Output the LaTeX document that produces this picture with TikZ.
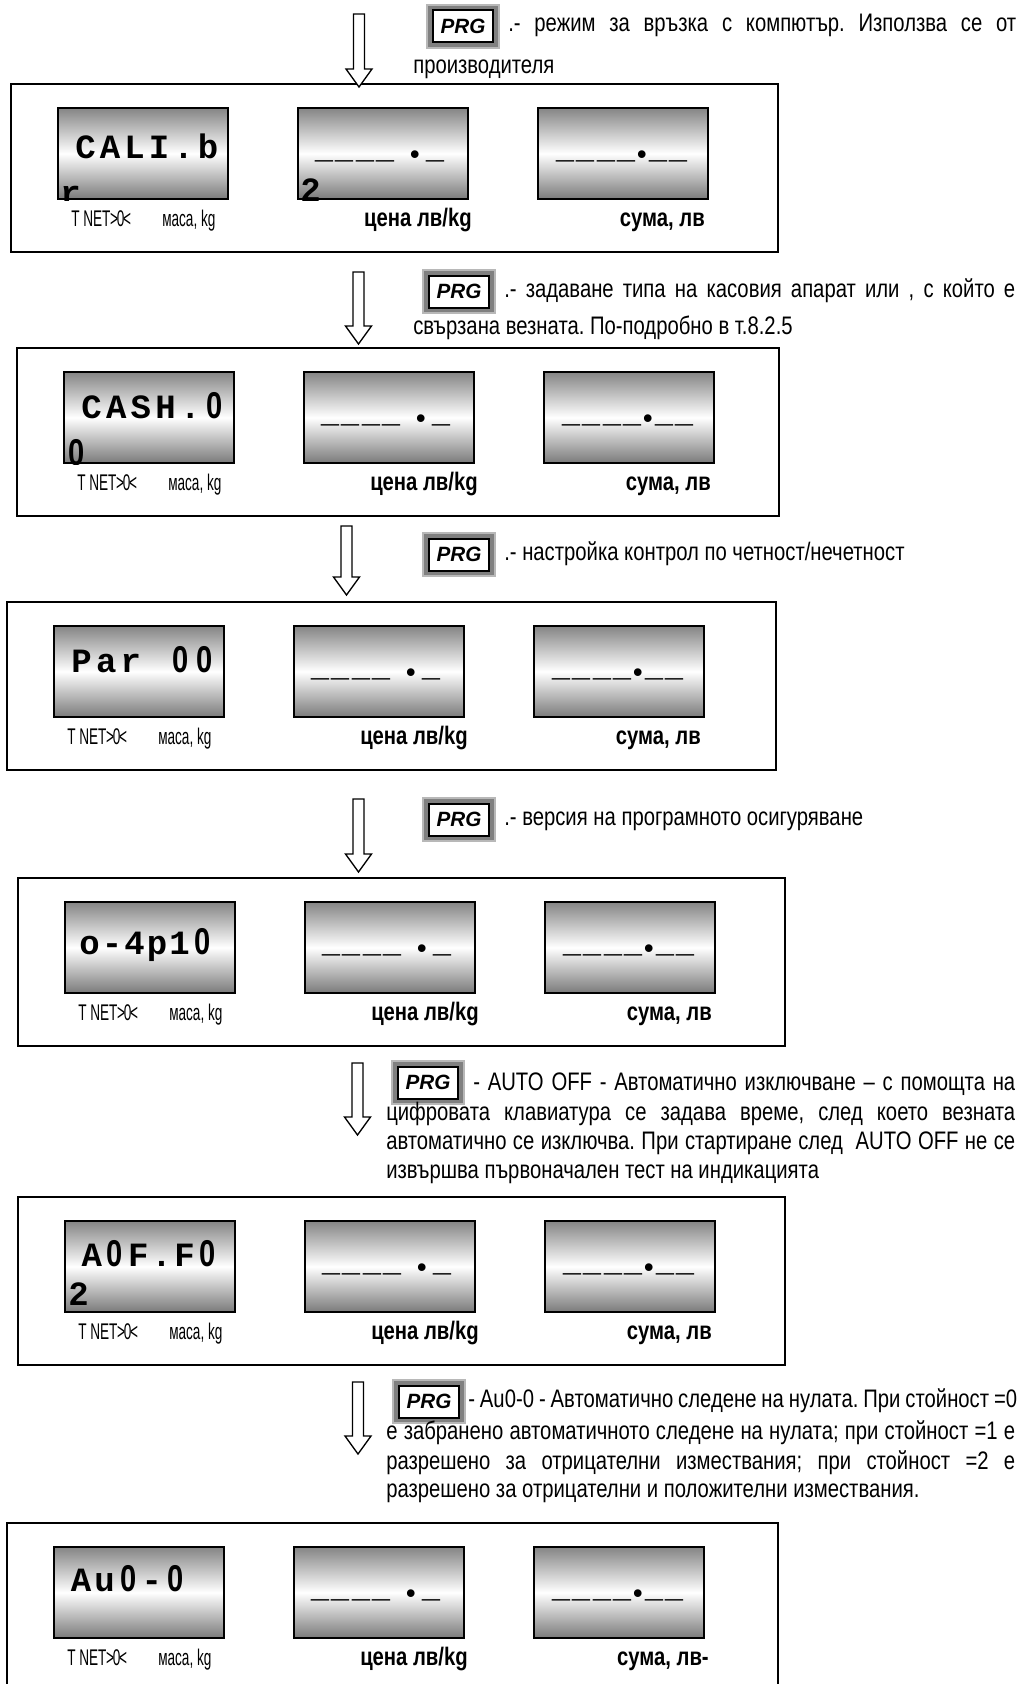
\documentclass[tikz,border=0pt]{standalone}
\usepackage{fontspec}
\setmainfont{Liberation Sans}
\newfontfamily\bodyf[FakeStretch=0.8]{Liberation Sans}
\newfontfamily\labf[FakeStretch=0.6]{Liberation Sans}
\newfontfamily\monof{Liberation Mono}
\newfontfamily\zfont{Liberation Sans}
\usetikzlibrary{calc}
\frenchspacing
\newlength\cw
\newcommand\dcell[1]{\makebox[\cw][c]{#1}}
\newcommand\zro{{\zfont\bfseries\fontsize{28}{30}\selectfont\scalebox{0.78}[1]{0}}}
\newcommand\dus{\makebox[15.3pt][c]{\zfont\bfseries\fontsize{28}{30}\selectfont\scalebox{0.86}[1]{\_}}}
\newcommand\dbul{{\fontsize{20}{20}\selectfont\raisebox{-4.5pt}{•}}}
\tikzset{
  panel/.style={draw=black,line width=1.5pt,minimum height=126pt,inner sep=0pt,anchor=north west},
  disp/.style={draw=black,line width=1.5pt,minimum width=127.5pt,minimum height=68.25pt,inner sep=0pt,anchor=north west,top color=black!48,bottom color=black!52,middle color=white},
  bodytxt/.style={font=\bodyf\fontsize{19}{22}\selectfont,inner sep=0pt,anchor=base west},
  lablft/.style={font=\labf\fontsize{17}{20}\selectfont,inner sep=0pt,anchor=base west},
  labbold/.style={font=\bodyf\bfseries\fontsize{19}{22}\selectfont,inner sep=0pt,anchor=base east},
  dtext/.style={font=\monof\bfseries\fontsize{25.5}{28}\selectfont,inner sep=0pt,anchor=base west},
  dashtxt/.style={font=\monof\bfseries\fontsize{25.5}{28}\selectfont,inner sep=0pt,anchor=base west},
  prgout/.style={fill=black!50,draw=black!28,line width=1.5pt,minimum width=54pt,minimum height=32.25pt,inner sep=0pt,anchor=north west},
  prgin/.style={fill=white,draw=black,line width=1.5pt,minimum width=45pt,minimum height=24pt,inner sep=0pt,font=\bfseries\itshape\fontsize{15.5}{18}\selectfont},
  arr/.style={draw=black,line width=1pt,fill=white,line join=miter}
}
% #1 id, #2 left, #3 top, #4 width (pt)
\newcommand\panelrow[4]{%
  \node[panel,minimum width=#4] (p#1) at (#2,#3) {};
  \node[disp] (a#1) at ($(p#1.north west)+(47,24)$) {};
  \node[disp] (b#1) at ($(p#1.north west)+(287,24)$) {};
  \node[disp] (c#1) at ($(p#1.north west)+(527,24)$) {};
  \node[lablft] (la#1) at ($(a#1.south west)+(14,26)$) {T NET\kern-0.3pt>\kern-1pt0\kern-1pt<};
  \node[lablft] (lm#1) at ($(a#1.south west)+(105,26)$) {маса, kg};
  \node[labbold] (lb#1) at ($(b#1.south east)+(3,26)$) {цена лв/kg};
  \node[dashtxt] (tb#1) at ($(b#1.north west)+(17,50)$) {\dus\dus\dus\dus\kern8.25pt\dbul\kern1.5pt\dus};
  \node[dashtxt] (tc#1) at ($(c#1.north west)+(18,50)$) {\dus\dus\dus\dus\kern-2.25pt\dbul\kern-1.5pt\dus\dus};
}
\newcommand\prgkey[3]{%
  \node[prgout] (#1) at (#2,#3) {};
  \node[prgin] (#1i) at (#1.center) {PRG};
}
\newcommand\blockarrow[3]{%
  \draw[arr] ({#1-5.5},#2) -- ({#1+5.5},#2) -- ({#1+5.5},{#3-18}) -- ({#1+13},{#3-18}) -- (#1,#3) -- ({#1-13},{#3-18}) -- ({#1-5.5},{#3-18}) -- cycle;
}
\begin{document}
\begin{tikzpicture}[x=0.75pt,y=-0.75pt]
\useasboundingbox (0,0) rectangle (1021,1684);
\clip (0,0) rectangle (1021,1684);
\fill[white] (0,0) rectangle (1021,1684);

% ---------- row 1
\panelrow{1}{10}{83}{575.25pt}
\node[labbold] (lc1) at ($(c1.south east)+(-4,26)$) {сума, лв};
\node[dtext] (ta1) at ($(a1.north west)+(16,51)$) {\setlength\cw{18.4pt}\dcell{C}\dcell{A}\dcell{L}\dcell{I}\dcell{.}\dcell{b}};
\begin{scope}
\clip (a1.south west) rectangle (a1.north east);
\node[dtext] (ra1) at ($(a1.south west)+(3,4)$) {r};
\end{scope}
\begin{scope}
\clip (b1.south west) rectangle (b1.north east);
\node[dtext] (rb1) at ($(b1.south west)+(3,1)$) {2};
\end{scope}
\blockarrow{359}{14}{87}
\prgkey{k1}{426}{4}
\node[bodytxt] (t1a) at (508,32) {\makebox[381pt][s]{.- режим за връзка с компютър. Използва се от}};
\node[bodytxt] (t1b) at (413,74) {производителя};

% ---------- row 2
\panelrow{2}{16}{347}{571.5pt}
\node[labbold] (lc2) at ($(c2.south east)+(-4,26)$) {сума, лв};
\node[dtext] (ta2) at ($(a2.north west)+(16,47)$) {\setlength\cw{18.5pt}\dcell{C}\dcell{A}\dcell{S}\dcell{H}\dcell{.}\dcell{\zro}};
\begin{scope}
\clip (a2.south west) rectangle (a2.north east);
\node[dtext] (ra2) at ($(a2.south west)+(5,1)$) {\zro};
\end{scope}
\blockarrow{358.5}{272}{344}
\prgkey{k2}{422}{269}
\node[bodytxt] (t2a) at (504,297) {\makebox[383.25pt][s]{.- задаване типа на касовия апарат или , с който е}};
\node[bodytxt] (t2b) at (413,334) {свързана везната. По-подробно в т.8.2.5};

% ---------- row 3
\panelrow{3}{6}{601}{576.75pt}
\node[labbold] (lc3) at ($(c3.south east)+(-4,26)$) {сума, лв};
\node[dtext] (ta3) at ($(a3.north west)+(16,47)$) {\setlength\cw{18.5pt}\dcell{P}\dcell{a}\dcell{r}\dcell{ }\dcell{\zro}\dcell{\zro}};
\blockarrow{346.5}{526}{595}
\prgkey{k3}{422}{532}
\node[bodytxt] (t3a) at (504,560) {.- настройка контрол по четност/нечетност};

% ---------- row 4
\panelrow{4}{17}{877}{575.25pt}
\node[labbold] (lc4) at ($(c4.south east)+(-4,26)$) {сума, лв};
\node[dtext] (ta4) at ($(a4.north west)+(14,53)$) {\setlength\cw{16.9pt}\dcell{o}\dcell{-}\dcell{4}\dcell{p}\dcell{1}\dcell{\zro}};
\blockarrow{358.5}{799}{872}
\prgkey{k4}{422}{797}
\node[bodytxt] (t4a) at (504,825) {.- версия на програмното осигуряване};

% ---------- row 5
\panelrow{5}{17}{1196}{575.25pt}
\node[labbold] (lc5) at ($(c5.south east)+(-4,26)$) {сума, лв};
\node[dtext] (ta5) at ($(a5.north west)+(16,46)$) {\setlength\cw{17.4pt}\dcell{A}\dcell{\zro}\dcell{F}\dcell{.}\dcell{F}\dcell{\zro}};
\node[dtext] (ra5) at ($(a5.south west)+(4,-8)$) {2};
\blockarrow{357.5}{1063}{1135}
\prgkey{k5}{391}{1060}
\node[bodytxt] (t5a) at (473,1090) {\makebox[406.5pt][s]{- AUTO OFF - Автоматично изключване – с помощта на}};
\node[bodytxt] (t5b) at (386,1120) {\makebox[471.75pt][s]{цифровата клавиатура се задава време, след което везната}};
\node[bodytxt] (t5c) at (386,1149) {\makebox[471.75pt][s]{автоматично се изключва. При стартиране след \ AUTO OFF не се}};
\node[bodytxt] (t5d) at (386,1178) {извършва първоначален тест на индикацията};

% ---------- row 6
\panelrow{6}{6}{1522}{578.25pt}
\node[labbold] (lc6) at ($(c6.south east)+(4,26)$) {сума, лв-};
\node[dtext] (ta6) at ($(a6.north west)+(16,45)$) {\setlength\cw{17.7pt}\dcell{A}\dcell{u}\dcell{\zro}\dcell{-}\dcell{\zro}};
\blockarrow{358}{1382}{1454}
\prgkey{k6}{392}{1379}
\node[bodytxt] (t6a) at (468,1407) {\makebox[411.75pt][s]{- Au0-0 - Автоматично следене на нулата. При стойност =0}};
\node[bodytxt] (t6b) at (386,1439) {\makebox[471.75pt][s]{е забранено автоматичното следене на нулата; при стойност =1 е}};
\node[bodytxt] (t6c) at (386,1469) {\makebox[471.75pt][s]{разрешено за отрицателни измествания; при стойност =2 е}};
\node[bodytxt] (t6d) at (386,1497) {разрешено за отрицателни и положителни измествания.};
\end{tikzpicture}
\end{document}
